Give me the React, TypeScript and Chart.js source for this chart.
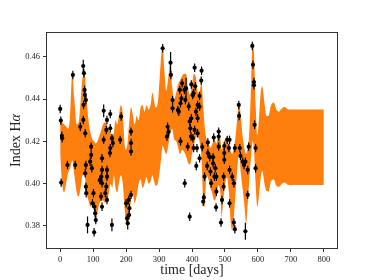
import React, { useEffect, useRef } from "react";
import { Chart, registerables } from "chart.js";

Chart.register(...registerables);

// ---- Data ----
const xTicks = [0, 100, 200, 300, 400, 500, 600, 700, 800];
const yTicks = [0.38, 0.40, 0.42, 0.44, 0.46];

// GP prediction band (upper / lower envelope)
const bandX = [0, 6, 12, 18, 24, 30, 37, 43, 50, 56, 62, 68, 74, 80, 86, 92, 98, 103, 108, 113, 118, 124, 130, 136, 142, 148, 153, 158, 163, 168, 173, 178, 184, 190, 196, 200, 205, 210, 215, 220, 226, 232, 238, 244, 250, 256, 262, 268, 274, 280, 285, 290, 296, 302, 307, 311, 316, 322, 328, 334, 340, 346, 352, 358, 364, 370, 376, 382, 388, 394, 400, 406, 412, 418, 424, 429, 434, 438, 444, 450, 456, 462, 468, 474, 480, 486, 490, 494, 500, 506, 512, 518, 522, 527, 532, 538, 543, 548, 554, 560, 564, 568, 574, 580, 584, 588, 593, 598, 603, 608, 613, 620, 626, 632, 640, 648, 656, 664, 672, 681, 690, 700, 720, 800];
const bandHi = [0.432, 0.429, 0.428, 0.427, 0.426, 0.432, 0.453, 0.440, 0.428, 0.429, 0.439, 0.450, 0.452, 0.441, 0.430, 0.424, 0.421, 0.420, 0.419, 0.420, 0.422, 0.425, 0.428, 0.429, 0.428, 0.425, 0.424, 0.423, 0.424, 0.430, 0.428, 0.432, 0.437, 0.433, 0.418, 0.416, 0.420, 0.430, 0.436, 0.433, 0.428, 0.432, 0.430, 0.436, 0.437, 0.434, 0.437, 0.435, 0.437, 0.443, 0.439, 0.436, 0.438, 0.450, 0.461, 0.465, 0.454, 0.444, 0.450, 0.457, 0.446, 0.440, 0.443, 0.447, 0.449, 0.451, 0.452, 0.452, 0.445, 0.442, 0.447, 0.452, 0.450, 0.443, 0.444, 0.448, 0.437, 0.428, 0.421, 0.419, 0.417, 0.419, 0.421, 0.419, 0.423, 0.421, 0.416, 0.418, 0.421, 0.422, 0.418, 0.415, 0.414, 0.417, 0.422, 0.432, 0.438, 0.432, 0.422, 0.416, 0.414, 0.416, 0.425, 0.450, 0.467, 0.462, 0.438, 0.423, 0.430, 0.442, 0.446, 0.438, 0.432, 0.432, 0.437, 0.4383, 0.435, 0.434, 0.4355, 0.4362, 0.4352, 0.435, 0.435, 0.435];
const bandLo = [0.414, 0.400, 0.396, 0.400, 0.405, 0.407, 0.411, 0.404, 0.396, 0.394, 0.398, 0.404, 0.404, 0.396, 0.392, 0.389, 0.392, 0.388, 0.384, 0.386, 0.390, 0.392, 0.392, 0.391, 0.392, 0.396, 0.400, 0.398, 0.404, 0.398, 0.396, 0.400, 0.404, 0.400, 0.388, 0.381, 0.380, 0.386, 0.392, 0.396, 0.391, 0.394, 0.400, 0.402, 0.398, 0.400, 0.403, 0.400, 0.401, 0.404, 0.401, 0.399, 0.400, 0.406, 0.413, 0.418, 0.416, 0.414, 0.418, 0.424, 0.426, 0.421, 0.420, 0.417, 0.414, 0.416, 0.415, 0.413, 0.410, 0.409, 0.414, 0.418, 0.422, 0.422, 0.419, 0.412, 0.392, 0.389, 0.404, 0.402, 0.398, 0.395, 0.392, 0.394, 0.399, 0.396, 0.384, 0.391, 0.399, 0.403, 0.396, 0.381, 0.378, 0.384, 0.395, 0.408, 0.414, 0.405, 0.397, 0.388, 0.381, 0.388, 0.402, 0.414, 0.420, 0.416, 0.400, 0.389, 0.394, 0.402, 0.406, 0.400, 0.3965, 0.3962, 0.4012, 0.402, 0.399, 0.3985, 0.3998, 0.4005, 0.3995, 0.3993, 0.3994, 0.3994];

// Observations (time, index, error)
const ptX = [0, 2, 5, 6, 3, 22, 38.5, 45.6, 61, 70, 72, 74, 75, 78, 71, 70, 76, 78, 76, 78, 79, 83, 94, 94, 91, 96, 101, 98, 104, 106, 103, 108, 120, 127, 127, 127, 124, 127, 132, 142, 140, 152, 152, 132, 157, 160, 152, 151, 142, 142, 125, 140, 137, 142, 157, 182, 185, 215, 215, 215, 215, 208, 210, 209, 203, 205, 200, 311, 335, 336, 341, 341, 326, 329, 324, 357, 360, 363, 368, 365, 370, 377, 380, 382, 365, 390, 393, 395, 397, 387, 405, 402, 408, 378, 393, 429, 428, 398, 410, 405, 423, 417, 423, 412, 398, 417, 408, 417, 403, 415, 431, 423, 413, 434, 436, 438, 448, 448, 446, 454, 464, 466, 481, 481, 471, 456, 458, 474, 468, 474, 473, 464, 481, 491, 488, 498, 498, 498, 496, 496, 507, 514, 512, 514, 514, 522, 530, 527, 530, 542, 543, 545, 583, 585, 588, 588, 590, 593, 593, 547, 554, 558, 562, 569, 572, 569, 562, 527];
const ptY = [0.4353, 0.4298, 0.4226, 0.4215, 0.4005, 0.4088, 0.4514, 0.4088, 0.4269, 0.4556, 0.4522, 0.4443, 0.4420, 0.4395, 0.4372, 0.4301, 0.4238, 0.4088, 0.4049, 0.3986, 0.3955, 0.3805, 0.4175, 0.4136, 0.4104, 0.4073, 0.3955, 0.3907, 0.3891, 0.3860, 0.3770, 0.3828, 0.4017, 0.4120, 0.4065, 0.4002, 0.3939, 0.3891, 0.4344, 0.4301, 0.4254, 0.4329, 0.4262, 0.4207, 0.4215, 0.4192, 0.4168, 0.4145, 0.4065, 0.4033, 0.4033, 0.3986, 0.3955, 0.3923, 0.3805, 0.4207, 0.4317, 0.4246, 0.4192, 0.4152, 0.3947, 0.3923, 0.3884, 0.3852, 0.3836, 0.3813, 0.3907, 0.4640, 0.4572, 0.4514, 0.4395, 0.4356, 0.4269, 0.4245, 0.4222, 0.4348, 0.4340, 0.4443, 0.4403, 0.4380, 0.4474, 0.4443, 0.4395, 0.4450, 0.4200, 0.4365, 0.4294, 0.4262, 0.4223, 0.4175, 0.4168, 0.4419, 0.4548, 0.4002, 0.3844, 0.4534, 0.4487, 0.4469, 0.4460, 0.4427, 0.4414, 0.4372, 0.4364, 0.4340, 0.4309, 0.4309, 0.4254, 0.4238, 0.4215, 0.4168, 0.4173, 0.4120, 0.4084, 0.3915, 0.3935, 0.4033, 0.4195, 0.4145, 0.4084, 0.4125, 0.4125, 0.4218, 0.4246, 0.4223, 0.4073, 0.4057, 0.4002, 0.4033, 0.4033, 0.3962, 0.3888, 0.4096, 0.4175, 0.3923, 0.3816, 0.4178, 0.4145, 0.4113, 0.4033, 0.3986, 0.4207, 0.4207, 0.4168, 0.4065, 0.3907, 0.4033, 0.4168, 0.3816, 0.3785, 0.4372, 0.4320, 0.4168, 0.4651, 0.4562, 0.4480, 0.4465, 0.4278, 0.4168, 0.4073, 0.4131, 0.4104, 0.4088, 0.4104, 0.4065, 0.4175, 0.3947, 0.3775, 0.4002];
const ptErr = [0.002, 0.002, 0.002, 0.002, 0.002, 0.002, 0.002, 0.002, 0.002, 0.003, 0.002, 0.002, 0.002, 0.002, 0.002, 0.002, 0.002, 0.002, 0.002, 0.002, 0.002, 0.004, 0.002, 0.002, 0.002, 0.002, 0.002, 0.002, 0.002, 0.002, 0.002, 0.002, 0.002, 0.002, 0.002, 0.002, 0.002, 0.002, 0.003, 0.002, 0.002, 0.002, 0.002, 0.002, 0.002, 0.002, 0.002, 0.002, 0.002, 0.002, 0.002, 0.002, 0.002, 0.002, 0.003, 0.002, 0.002, 0.002, 0.002, 0.002, 0.002, 0.002, 0.002, 0.002, 0.002, 0.003, 0.002, 0.002, 0.005, 0.002, 0.002, 0.002, 0.002, 0.002, 0.002, 0.002, 0.002, 0.002, 0.002, 0.002, 0.002, 0.002, 0.002, 0.005, 0.002, 0.002, 0.002, 0.002, 0.002, 0.002, 0.002, 0.002, 0.002, 0.002, 0.002, 0.002, 0.002, 0.002, 0.002, 0.002, 0.002, 0.002, 0.002, 0.002, 0.002, 0.002, 0.002, 0.002, 0.002, 0.002, 0.002, 0.002, 0.002, 0.002, 0.002, 0.002, 0.002, 0.002, 0.002, 0.002, 0.002, 0.002, 0.002, 0.002, 0.002, 0.002, 0.002, 0.002, 0.002, 0.002, 0.002, 0.002, 0.002, 0.002, 0.002, 0.002, 0.002, 0.002, 0.002, 0.002, 0.002, 0.002, 0.002, 0.002, 0.002, 0.002, 0.002, 0.002, 0.002, 0.002, 0.002, 0.002, 0.002, 0.002, 0.002, 0.002, 0.002, 0.002, 0.002, 0.002, 0.002, 0.002, 0.002, 0.002, 0.002, 0.002, 0.004, 0.002];

const xLabel = "time [days]";
const yLabelMain = "Index H";
const yLabelGreek = "α";

const ORANGE = "#ff7f0e";
const SERIF = "'Liberation Serif', 'DejaVu Serif', serif";

const errorBarPlugin = {
  id: "errorBars",
  afterDatasetsDraw(chart: any) {
    const { ctx, chartArea, scales } = chart;
    const xs = scales.x;
    const ys = scales.y;
    ctx.save();
    ctx.beginPath();
    ctx.rect(chartArea.left, chartArea.top, chartArea.right - chartArea.left, chartArea.bottom - chartArea.top);
    ctx.clip();
    ctx.strokeStyle = "#000";
    ctx.lineWidth = 1.2;
    for (let i = 0; i < ptX.length; i++) {
      const px = xs.getPixelForValue(ptX[i]);
      const y1 = ys.getPixelForValue(ptY[i] - ptErr[i]);
      const y2 = ys.getPixelForValue(ptY[i] + ptErr[i]);
      ctx.beginPath();
      ctx.moveTo(px, y1);
      ctx.lineTo(px, y2);
      ctx.stroke();
    }
    ctx.restore();
  },
};

const framePlugin = {
  id: "frameAndTitles",
  afterDraw(chart: any) {
    const { ctx, chartArea } = chart;
    ctx.save();
    ctx.strokeStyle = "#333";
    ctx.lineWidth = 1;
    const l = Math.round(chartArea.left) - 0.5;
    const t = Math.round(chartArea.top) - 0.5;
    const r = Math.round(chartArea.right) + 0.5;
    const b = Math.round(chartArea.bottom) + 0.5;
    ctx.strokeRect(l, t, r - l, b - t);

    ctx.fillStyle = "#222";
    ctx.font = `14px ${SERIF}`;
    ctx.textAlign = "center";
    ctx.textBaseline = "middle";
    ctx.fillText(xLabel, (chartArea.left + chartArea.right) / 2, 270);

    ctx.translate(16, (chartArea.top + chartArea.bottom) / 2);
    ctx.rotate(-Math.PI / 2);
    ctx.font = `14px ${SERIF}`;
    const w1 = ctx.measureText(yLabelMain).width;
    ctx.font = `italic 14px ${SERIF}`;
    const w2 = ctx.measureText(yLabelGreek).width;
    const start = -(w1 + w2) / 2;
    ctx.textAlign = "left";
    ctx.font = `14px ${SERIF}`;
    ctx.fillText(yLabelMain, start, 0);
    ctx.font = `italic 14px ${SERIF}`;
    ctx.fillText(yLabelGreek, start + w1, 0);
    ctx.restore();
  },
};

export default function App() {
  const ref = useRef<HTMLCanvasElement | null>(null);

  useEffect(() => {
    document.body.style.margin = "0";
    const canvas = ref.current;
    if (!canvas) return;
    const chart = new Chart(canvas, {
      type: "scatter",
      data: {
        datasets: [
          {
            label: "obs",
            data: ptX.map((x, i) => ({ x, y: ptY[i] })),
            backgroundColor: "#000",
            borderColor: "#000",
            pointRadius: 2.1,
            pointBorderWidth: 0,
            showLine: false,
            order: 0,
          } as any,
          {
            label: "hi",
            data: bandX.map((x, i) => ({ x, y: bandHi[i] })),
            showLine: true,
            borderWidth: 0,
            borderColor: "rgba(0,0,0,0)",
            backgroundColor: ORANGE,
            pointRadius: 0,
            fill: "+1",
            cubicInterpolationMode: "monotone",
            order: 1,
          } as any,
          {
            label: "lo",
            data: bandX.map((x, i) => ({ x, y: bandLo[i] })),
            showLine: true,
            borderWidth: 0,
            borderColor: "rgba(0,0,0,0)",
            backgroundColor: ORANGE,
            pointRadius: 0,
            fill: false,
            cubicInterpolationMode: "monotone",
            order: 2,
          } as any,
        ],
      },
      options: {
        responsive: false,
        animation: false,
        events: [],
        layout: { padding: { left: 0, right: 37, top: 33, bottom: 0 } },
        plugins: { legend: { display: false }, tooltip: { enabled: false } },
        scales: {
          x: {
            type: "linear",
            min: -40,
            max: 840,
            afterFit: (s: any) => { s.height = 32; },
            afterBuildTicks: (s: any) => { s.ticks = xTicks.map((v) => ({ value: v })); },
            ticks: {
              font: { family: SERIF, size: 8.5 },
              color: "#222",
              padding: 3,
              maxRotation: 0,
              callback: (v: any) => String(v),
            },
            grid: { drawOnChartArea: false, drawTicks: true, tickLength: 4, color: "#333" },
            border: { display: false },
          },
          y: {
            type: "linear",
            min: 0.3696,
            max: 0.4712,
            afterFit: (s: any) => { s.width = 47; },
            afterBuildTicks: (s: any) => { s.ticks = yTicks.map((v) => ({ value: v })); },
            ticks: {
              font: { family: SERIF, size: 8.5 },
              color: "#222",
              padding: 3,
              callback: (v: any) => Number(v).toFixed(2),
            },
            grid: { drawOnChartArea: false, drawTicks: true, tickLength: 4, color: "#333" },
            border: { display: false },
          },
        },
      },
      plugins: [errorBarPlugin, framePlugin],
    });
    return () => chart.destroy();
  }, []);

  return (
    <div style={{ width: 374, height: 280, background: "#fff" }}>
      <canvas ref={ref} width={374} height={280} style={{ display: "block" }} />
    </div>
  );
}
